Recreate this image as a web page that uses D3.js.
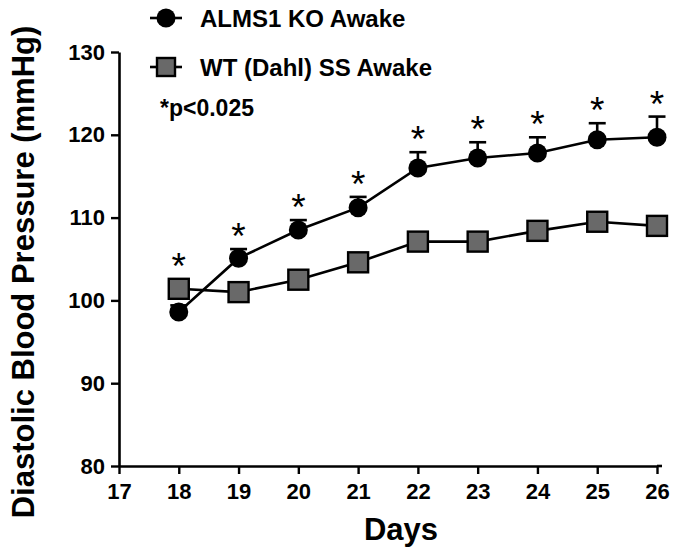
<!DOCTYPE html>
<html>
<head>
<meta charset="utf-8">
<script src="https://cdn.jsdelivr.net/npm/d3@7"></script>
<style>
  body { margin: 0; background: #fff; }
  svg { display: block; font-family: "Liberation Sans", Arial, sans-serif; }
</style>
</head>
<body>
<svg id="chart" width="680" height="550"></svg>
<script>
// Diastolic blood pressure (mmHg) by day, mean with upper SEM
const days = [18, 19, 20, 21, 22, 23, 24, 25, 26];
const koMean = [98.6, 105.1, 108.5, 111.2, 116.0, 117.2, 117.8, 119.4, 119.7];
const koSem  = [0.8, 1.1, 1.2, 1.3, 1.9, 1.9, 1.9, 2.0, 2.5];
const wtMean = [101.4, 101.0, 102.5, 104.6, 107.1, 107.1, 108.4, 109.5, 109.0];
const significant = [true, true, true, true, true, true, true, true, true];
const xTicks = [17, 18, 19, 20, 21, 22, 23, 24, 25, 26];
const yTicks = [80, 90, 100, 110, 120, 130];
const seriesNames = ["ALMS1 KO Awake", "WT (Dahl) SS Awake"];
const noteText = "*p<0.025";

const svg = d3.select("#chart");
const x = d3.scaleLinear().domain([17, 26]).range([119, 657]);
const y = d3.scaleLinear().domain([80, 130]).range([466, 52]);
const SQ = 20, R = 9.5, CAP = 17;
const squareFill = "#696969";

// Axes
const yAxis = svg.append("g")
  .attr("transform", `translate(${x(17)},0)`)
  .call(d3.axisLeft(y).tickValues(yTicks).tickSize(8).tickSizeOuter(0).tickPadding(6));
const xAxis = svg.append("g")
  .attr("transform", `translate(0,${y(80)})`)
  .call(d3.axisBottom(x).tickValues(xTicks).tickSize(8).tickSizeOuter(0).tickPadding(9));
[yAxis, xAxis].forEach(g => {
  g.select(".domain").attr("stroke", "#000").attr("stroke-width", 2.6);
  g.selectAll(".tick line").attr("stroke", "#000").attr("stroke-width", 2.4);
  g.selectAll(".tick text")
    .attr("fill", "#000")
    .style("font-size", "22px")
    .style("font-weight", "bold")
    .style("font-family", "'Liberation Sans', Arial, sans-serif");
});
// carry the x axis line a little past the last tick
svg.append("line")
  .attr("x1", x(26)).attr("x2", x(26) + 5)
  .attr("y1", y(80)).attr("y2", y(80))
  .attr("stroke", "#000").attr("stroke-width", 2.6);

// Axis titles
svg.append("text")
  .attr("transform", `translate(34,272) rotate(-90)`)
  .attr("text-anchor", "middle")
  .style("font-size", "31px").style("font-weight", "bold")
  .text("Diastolic Blood Pressure (mmHg)");
svg.append("text")
  .attr("x", 401).attr("y", 540)
  .attr("text-anchor", "middle")
  .style("font-size", "31px").style("font-weight", "bold")
  .text("Days");

const ko = days.map((d, i) => ({ day: d, mean: koMean[i], sem: koSem[i] }));
const wt = days.map((d, i) => ({ day: d, mean: wtMean[i] }));

const line = d3.line().x(d => x(d.day)).y(d => y(d.mean));

svg.append("path").datum(wt)
  .attr("d", line).attr("fill", "none")
  .attr("stroke", "#000").attr("stroke-width", 2.6);
svg.append("path").datum(ko)
  .attr("d", line).attr("fill", "none")
  .attr("stroke", "#000").attr("stroke-width", 2.6);

// Upper error bars for the KO group
const eb = svg.append("g").attr("stroke", "#000").attr("stroke-width", 2.6);
eb.selectAll("line.v").data(ko).join("line")
  .attr("x1", d => x(d.day)).attr("x2", d => x(d.day))
  .attr("y1", d => y(d.mean)).attr("y2", d => y(d.mean + d.sem));
eb.selectAll("line.c").data(ko).join("line")
  .attr("x1", d => x(d.day) - CAP / 2).attr("x2", d => x(d.day) + CAP / 2)
  .attr("y1", d => y(d.mean + d.sem)).attr("y2", d => y(d.mean + d.sem));

// Markers
svg.append("g").selectAll("rect").data(wt).join("rect")
  .attr("x", d => x(d.day) - SQ / 2).attr("y", d => y(d.mean) - SQ / 2)
  .attr("width", SQ).attr("height", SQ)
  .attr("fill", squareFill).attr("stroke", "#000").attr("stroke-width", 2.4);
svg.append("g").selectAll("circle").data(ko).join("circle")
  .attr("cx", d => x(d.day)).attr("cy", d => y(d.mean)).attr("r", R)
  .attr("fill", "#000");

// Significance stars above the highest mark of each day
svg.append("g").selectAll("text").data(days.filter((d, i) => significant[i])).join("text")
  .attr("x", d => x(d))
  .attr("y", d => {
    const i = days.indexOf(d);
    return Math.min(y(koMean[i] + koSem[i]), y(koMean[i]) - R, y(wtMean[i]) - SQ / 2);
  })
  .attr("text-anchor", "middle")
  .style("font-size", "37px")
  .text("*");

// Legend
const lg = svg.append("g");
lg.append("line").attr("x1", 150).attr("x2", 182).attr("y1", 18).attr("y2", 18)
  .attr("stroke", "#000").attr("stroke-width", 2.6);
lg.append("circle").attr("cx", 166).attr("cy", 18).attr("r", R).attr("fill", "#000");
lg.append("text").attr("x", 200).attr("y", 27)
  .style("font-size", "24px").style("font-weight", "bold").text(seriesNames[0]);
lg.append("line").attr("x1", 150).attr("x2", 182).attr("y1", 67).attr("y2", 67)
  .attr("stroke", "#000").attr("stroke-width", 2.6);
lg.append("rect").attr("x", 157).attr("y", 58).attr("width", 18).attr("height", 18)
  .attr("fill", squareFill).attr("stroke", "#000").attr("stroke-width", 2.4);
lg.append("text").attr("x", 200).attr("y", 76)
  .style("font-size", "24px").style("font-weight", "bold").text(seriesNames[1]);
lg.append("text").attr("x", 160).attr("y", 116)
  .style("font-size", "23px").style("font-weight", "bold").text(noteText);
</script>
</body>
</html>
